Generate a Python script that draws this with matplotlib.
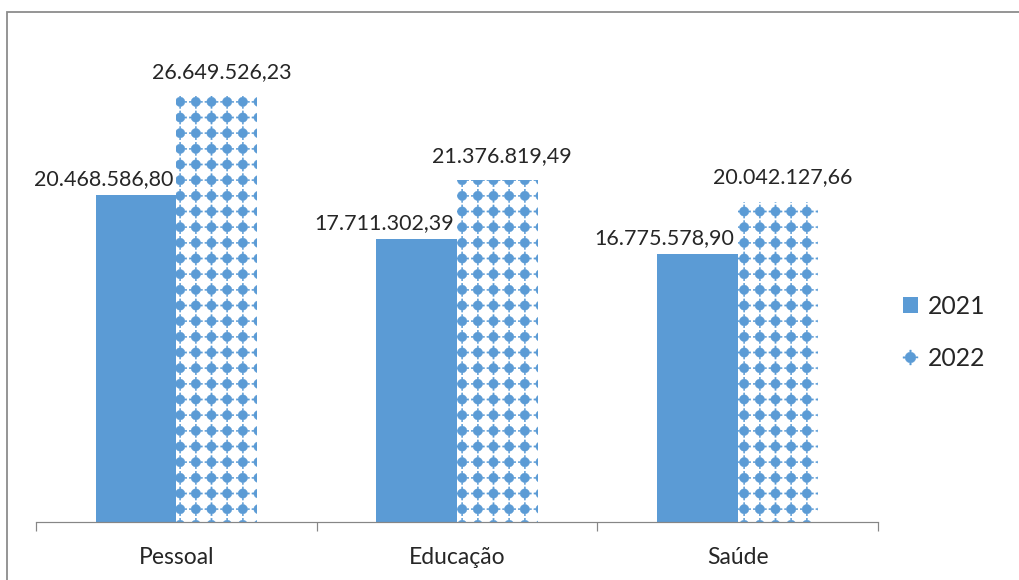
import numpy as np
import matplotlib
matplotlib.use("Agg")
import matplotlib.pyplot as plt
import matplotlib.hatch as mhatch
from matplotlib.path import Path
from matplotlib.patches import Patch, Rectangle
from matplotlib.lines import Line2D

# ---------------- data ----------------
categories = ["Pessoal", "Educação", "Saúde"]
series_names = ["2021", "2022"]
values_2021 = [20468586.80, 17711302.39, 16775578.90]
values_2022 = [26649526.23, 21376819.49, 20042127.66]

# ---------------- style ----------------
W, H, DPI = 1019, 580, 94
BLUE = "#5B9BD5"
TEXT = "#262626"
GRAY = "#868686"
plt.rcParams["font.family"] = ["Lato", "DejaVu Sans"]
plt.rcParams["hatch.linewidth"] = 0.3


def px(v):
    return v * 72.0 / DPI


def dot_shape(r=0.30, w=0.04, L=0.42, k=8):
    a = np.arcsin(w / r)
    verts = []
    for q in range(4):
        th0 = q * np.pi / 2
        c, s = np.cos(th0), np.sin(th0)
        verts.append((L * c + w * s, L * s - w * c))
        verts.append((L * c - w * s, L * s + w * c))
        for t in np.linspace(th0 + a, th0 + np.pi / 2 - a, k):
            verts.append((r * np.cos(t), r * np.sin(t)))
    return np.array(verts)


SHAPE = dot_shape()


class GridDots(mhatch.HatchPatternBase):
    """Square grid of dots with small arms (replaces '.' hatch)."""

    def __init__(self, hatch, density):
        self.n = int(hatch.count('.') * density)
        self.num_vertices = self.n * self.n * (len(SHAPE) + 1)

    def set_vertices_and_codes(self, vertices, codes):
        n = self.n
        m = len(SHAPE) + 1
        idx = 0
        for i in range(n):
            for j in range(n):
                cx, cy = (i + 0.5) / n, (j + 0.5) / n
                pts = SHAPE / n + (cx, cy)
                vertices[idx:idx + m - 1] = pts
                vertices[idx + m - 1] = pts[0]
                codes[idx] = Path.MOVETO
                codes[idx + 1:idx + m - 1] = Path.LINETO
                codes[idx + m - 1] = Path.CLOSEPOLY
                idx += m


mhatch._hatch_types = [GridDots if t is mhatch.SmallFilledCircles else t
                       for t in mhatch._hatch_types]


def fmt_br(v):
    s = f"{v:,.2f}"
    return s.replace(",", "X").replace(".", ",").replace("X", ".")


# ---------------- figure ----------------
fig = plt.figure(figsize=(W / DPI, H / DPI), dpi=DPI)
ax = fig.add_axes([36 / W, (H - 522) / H, (878 - 36) / W, (522 - 12) / H])

x = np.arange(len(categories))
bw = 0.287
b1 = ax.bar(x - bw / 2, values_2021, bw, color=BLUE, linewidth=0, label=series_names[0])
b2 = ax.bar(x + bw / 2, values_2022, bw, facecolor="white", edgecolor=BLUE,
            linewidth=0, hatch=".", label=series_names[1])

ax.set_xlim(-0.5, 2.5)
ax.set_ylim(0, 31.9e6)
ax.set_yticks([])
for side in ("top", "left", "right"):
    ax.spines[side].set_visible(False)
ax.spines["bottom"].set_color(GRAY)
ax.spines["bottom"].set_linewidth(px(1.2))

ax.set_xticks(x)
ax.set_xticklabels(categories, fontsize=17.5, color=TEXT)
ax.set_xticks([-0.5, 0.5, 1.5, 2.5], minor=True)
ax.tick_params(axis="x", which="major", length=0, pad=19)
ax.tick_params(axis="x", which="minor", length=px(9), width=px(1.2), color=GRAY,
               direction="out")

for xi, v in zip(x, values_2021):
    ax.annotate(fmt_br(v), xy=(xi, v), xytext=(px(-3), px(10)),
                textcoords="offset points", ha="right", va="baseline",
                fontsize=16.5, color=TEXT)
for xi, v in zip(x, values_2022):
    ax.annotate(fmt_br(v), xy=(xi + bw / 2, v), xytext=(px(5), px(18)),
                textcoords="offset points", ha="center", va="baseline",
                fontsize=16.5, color=TEXT)

h1 = Patch(facecolor=BLUE, edgecolor="none")
h2 = Line2D([], [], linestyle="none", marker=Path(SHAPE), markersize=px(15),
            markerfacecolor=BLUE, markeredgecolor=BLUE, markeredgewidth=0.3)
fig.legend([h1, h2], series_names, loc="upper left",
           bbox_to_anchor=(903 / W, (H - 295) / H), frameon=False,
           fontsize=19, handlelength=0.6, handleheight=0.6,
           handletextpad=0.4, labelspacing=1.15, borderpad=0, borderaxespad=0,
           labelcolor=TEXT)

fig.add_artist(Rectangle((7 / W, -0.2), 1.2, (H - 12) / H + 0.2,
                         transform=fig.transFigure, fill=False,
                         edgecolor="#8C8C8C", linewidth=px(1.8), clip_on=False))

fig.savefig("out.png", dpi=DPI, facecolor="white")
